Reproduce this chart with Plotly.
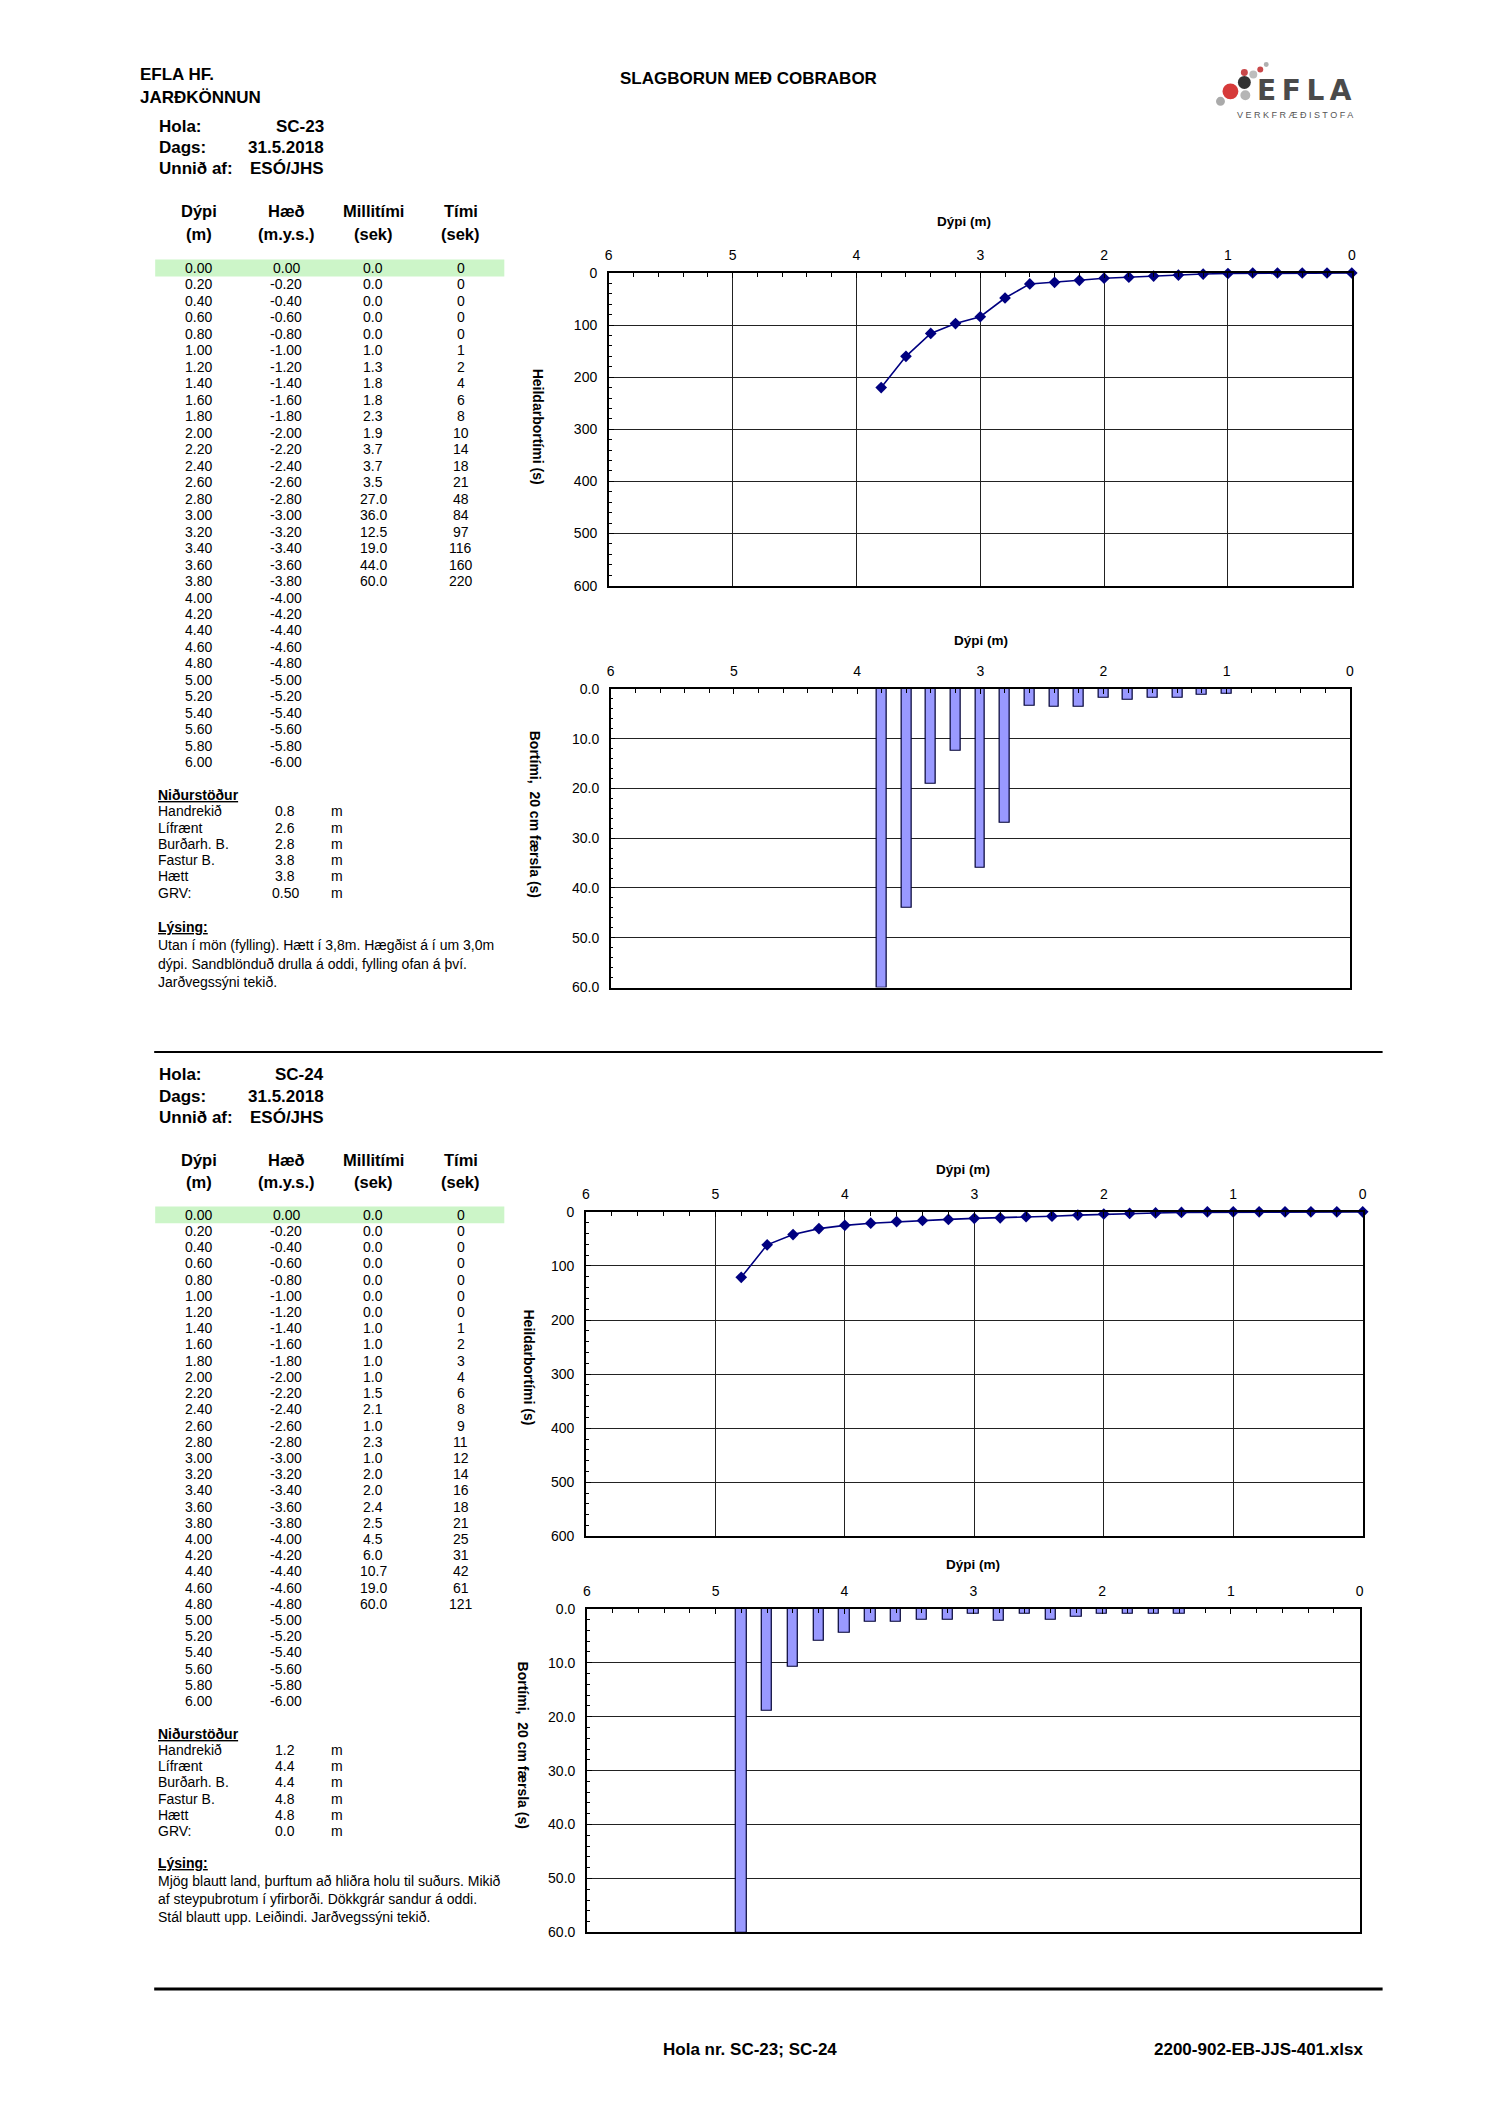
import plotly.graph_objects as go

W, H = 1500, 2122
FONT = "Liberation Sans, Arial, sans-serif"

# ---------------- data ----------------
table_depth = ["0.00", "0.20", "0.40", "0.60", "0.80", "1.00", "1.20", "1.40", "1.60", "1.80",
               "2.00", "2.20", "2.40", "2.60", "2.80", "3.00", "3.20", "3.40", "3.60", "3.80",
               "4.00", "4.20", "4.40", "4.60", "4.80", "5.00", "5.20", "5.40", "5.60", "5.80", "6.00"]
table_haed = ["0.00", "-0.20", "-0.40", "-0.60", "-0.80", "-1.00", "-1.20", "-1.40", "-1.60", "-1.80",
              "-2.00", "-2.20", "-2.40", "-2.60", "-2.80", "-3.00", "-3.20", "-3.40", "-3.60", "-3.80",
              "-4.00", "-4.20", "-4.40", "-4.60", "-4.80", "-5.00", "-5.20", "-5.40", "-5.60", "-5.80", "-6.00"]

sc23_depth = [0.0, 0.2, 0.4, 0.6, 0.8, 1.0, 1.2, 1.4, 1.6, 1.8,
              2.0, 2.2, 2.4, 2.6, 2.8, 3.0, 3.2, 3.4, 3.6, 3.8]
sc23_milli = [0.0, 0.0, 0.0, 0.0, 0.0, 1.0, 1.3, 1.8, 1.8, 2.3,
              1.9, 3.7, 3.7, 3.5, 27.0, 36.0, 12.5, 19.0, 44.0, 60.0]
sc23_time = [0, 0, 0, 0, 0, 1, 2, 4, 6, 8, 10, 14, 18, 21, 48, 84, 97, 116, 160, 220]

sc24_depth = [0.0, 0.2, 0.4, 0.6, 0.8, 1.0, 1.2, 1.4, 1.6, 1.8,
              2.0, 2.2, 2.4, 2.6, 2.8, 3.0, 3.2, 3.4, 3.6, 3.8,
              4.0, 4.2, 4.4, 4.6, 4.8]
sc24_milli = [0.0, 0.0, 0.0, 0.0, 0.0, 0.0, 0.0, 1.0, 1.0, 1.0,
              1.0, 1.5, 2.1, 1.0, 2.3, 1.0, 2.0, 2.0, 2.4, 2.5,
              4.5, 6.0, 10.7, 19.0, 60.0]
sc24_time = [0, 0, 0, 0, 0, 0, 0, 1, 2, 3, 4, 6, 8, 9, 11, 12, 14, 16, 18, 21, 25, 31, 42, 61, 121]

info_labels = ["Hola:", "Dags:", "Unnið af:"]
sc23_info = ["SC-23", "31.5.2018", "ESÓ/JHS"]
sc24_info = ["SC-24", "31.5.2018", "ESÓ/JHS"]

col_head1 = ["Dýpi", "Hæð", "Millitími", "Tími"]
col_head2 = ["(m)", "(m.y.s.)", "(sek)", "(sek)"]

nid_labels = ["Handrekið", "Lífrænt", "Burðarh. B.", "Fastur B.", "Hætt", "GRV:"]
sc23_nid = ["0.8", "2.6", "2.8", "3.8", "3.8", "0.50"]
sc24_nid = ["1.2", "4.4", "4.4", "4.8", "4.8", "0.0"]

sc23_lysing = ["Utan í mön (fylling). Hætt í 3,8m. Hægðist á í um 3,0m",
               "dýpi. Sandblönduð drulla á oddi, fylling ofan á því.",
               "Jarðvegssýni tekið."]
sc24_lysing = ["Mjög blautt land, þurftum að hliðra holu til suðurs. Mikið",
               "af steypubrotum í yfirborði. Dökkgrár sandur á oddi.",
               "Stál blautt upp. Leiðindi. Jarðvegssýni tekið."]

x_title = "Dýpi (m)"
y_title_line = "Heildarbortími (s)"
y_title_bar = "Bortími,  20 cm færsla (s)"

# ---------------- helpers ----------------
ann = []
shapes = []


def fx(x):
    return x / W


def fy(y):
    return 1 - y / H


def txt(x, y, s, size=14, bold=False, anchor="left", color="black", family=FONT, angle=0):
    ann.append(dict(x=fx(x), y=fy(y), xref="paper", yref="paper",
                    text=f"<b>{s}</b>" if bold else s, showarrow=False,
                    xanchor=anchor, yanchor="middle", textangle=angle, borderpad=0,
                    font=dict(size=size, color=color, family=family)))


def rect(x0, y0, x1, y1, fill):
    shapes.append(dict(type="rect", xref="paper", yref="paper", x0=fx(x0), x1=fx(x1),
                       y0=fy(y1), y1=fy(y0), fillcolor=fill, line=dict(width=0), layer="below"))


def hline(x0, x1, y, w):
    shapes.append(dict(type="line", xref="paper", yref="paper", x0=fx(x0), x1=fx(x1),
                       y0=fy(y), y1=fy(y), line=dict(color="black", width=w)))


def circle(cx, cy, r, col):
    shapes.append(dict(type="circle", xref="paper", yref="paper", x0=fx(cx - r), x1=fx(cx + r),
                       y0=fy(cy + r), y1=fy(cy - r), fillcolor=col, line=dict(width=0)))


# ---------------- page header ----------------
txt(136, 67, "EFLA HF.", 17, True)
txt(136, 90, "JARÐKÖNNUN", 17, True)
txt(748, 71, "SLAGBORUN MEÐ COBRABOR", 17, True, "center")

# logo
circle(1233, 84, 8, "#d63a3a")
circle(1247, 75, 6.5, "#333333")
circle(1223, 94, 4.5, "#aaaaaa")
circle(1248, 88, 5, "#b5b5b5")
circle(1247, 65, 3.5, "#c9484a")
circle(1256, 67, 4, "#bdbdbd")
circle(1263, 62, 3, "#c9484a")
circle(1269, 57, 2.5, "#b0b0b0")
txt(1307, 83, "E\u2009F\u2009L\u2009A", 28, True, "center", "#4a4a4a", "DejaVu Sans, Liberation Sans")
txt(1298, 108, "V E R K F R Æ Ð I S T O F A", 9, False, "center", "#555555")

# ---------------- table sections ----------------
sections = [
    dict(info=sc23_info, milli=sc23_milli, time=sc23_time, nid=sc23_nid, lys=sc23_lysing,
         info_y=[119, 141, 162], head_y=[205, 228], row0=262, dy=16.6,
         nid_y=793, nid_dy=16.4, lys_y=926, lys_dy=18.5),
    dict(info=sc24_info, milli=sc24_milli, time=sc24_time, nid=sc24_nid, lys=sc24_lysing,
         info_y=[1075, 1097, 1118], head_y=[1161, 1183], row0=1216, dy=16.33,
         nid_y=1739, nid_dy=16.3, lys_y=1869, lys_dy=18.2),
]
col_x = [196, 284, 371, 459]

for s in sections:
    for lab, val, yy in zip(info_labels, s["info"], s["info_y"]):
        txt(155, yy, lab, 17, True)
        txt(323, yy, val, 17, True, "right")
    for cx, h1, h2 in zip(col_x, col_head1, col_head2):
        txt(cx, s["head_y"][0], h1, 16.5, True, "center")
        txt(cx, s["head_y"][1], h2, 16.5, True, "center")
    rect(152, s["row0"] - 8.5, 503, s["row0"] + 8.5, "#ccf5c8")
    for i, (d, h) in enumerate(zip(table_depth, table_haed)):
        yy = s["row0"] + i * s["dy"]
        txt(col_x[0], yy, d, 14, False, "center")
        txt(col_x[1], yy, h, 14, False, "center")
    for i, (m, t) in enumerate(zip(s["milli"], s["time"])):
        yy = s["row0"] + i * s["dy"]
        txt(col_x[2], yy, f"{m:.1f}", 14, False, "center")
        txt(col_x[3], yy, str(t), 14, False, "center")
    txt(154, s["nid_y"], "<u>Niðurstöður</u>", 14, True)
    for i, (lab, val) in enumerate(zip(nid_labels, s["nid"])):
        yy = s["nid_y"] + (i + 1) * s["nid_dy"]
        txt(154, yy, lab, 14)
        txt(283, yy, val, 14, False, "center")
        txt(335, yy, "m", 14, False, "center")
    txt(154, s["lys_y"], "<u>Lýsing:</u>", 14, True)
    for i, line in enumerate(s["lys"]):
        txt(154, s["lys_y"] + (i + 1) * s["lys_dy"], line, 14)

# separator & footer
hline(151, 1386, 1052, 2)
hline(151, 1386, 1996, 3)
txt(750, 2057, "Hola nr. SC-23; SC-24", 17, True, "center")
txt(1367, 2057, "2200-902-EB-JJS-401.xlsx", 17, True, "right")

# ---------------- charts ----------------
charts = [
    dict(kind="line", x=sc23_depth, y=sc23_time, box=(608, 267, 1355, 582), ymax=600, dtick=100,
         minor=20, fmt="d", title=(965, 215), ytitle=(537, 422)),
    dict(kind="bar", x=sc23_depth, y=sc23_milli, box=(610, 686, 1353, 987), ymax=60, dtick=10,
         minor=2, fmt=".1f", title=(982, 637), ytitle=(534, 812)),
    dict(kind="line", x=sc24_depth, y=sc24_time, box=(585, 1213, 1366, 1540), ymax=600, dtick=100,
         minor=20, fmt="d", title=(964, 1170), ytitle=(528, 1370)),
    dict(kind="bar", x=sc24_depth, y=sc24_milli, box=(586, 1613, 1363, 1939), ymax=60, dtick=10,
         minor=2, fmt=".1f", title=(974, 1568), ytitle=(522, 1750)),
]

fig = go.Figure()
layout = {}
for k, c in enumerate(charts, start=1):
    sfx = "" if k == 1 else str(k)
    x0, y0, x1, y1 = c["box"]
    if c["kind"] == "line":
        fig.add_trace(go.Scatter(x=c["x"], y=c["y"], mode="lines+markers",
                                 line=dict(color="#000080", width=1.6),
                                 marker=dict(symbol="diamond", size=9, color="#000080"),
                                 cliponaxis=False, showlegend=False,
                                 xaxis="x" + sfx, yaxis="y" + sfx))
    else:
        fig.add_trace(go.Bar(x=c["x"], y=c["y"], width=0.08,
                             marker=dict(color="#9999ff", line=dict(color="#000033", width=1.2)),
                             showlegend=False, xaxis="x" + sfx, yaxis="y" + sfx))
    layout["xaxis" + sfx] = dict(
        domain=[fx(x0), fx(x1)], range=[6, 0], side="top", anchor="y" + sfx,
        tick0=0, dtick=1, ticks="inside", ticklen=5, tickcolor="black", ticklabelstandoff=5,
        showline=True, mirror=True, linecolor="black", linewidth=2,
        showgrid=(c["kind"] == "line"), gridcolor="#222222", gridwidth=1, zeroline=False,
        minor=dict(dtick=0.2, ticks="inside", ticklen=4, tickcolor="black", showgrid=False),
        tickfont=dict(size=14, family=FONT, color="black"), fixedrange=True)
    layout["yaxis" + sfx] = dict(
        domain=[fy(y1), fy(y0)], range=[c["ymax"], 0], anchor="x" + sfx,
        tick0=0, dtick=c["dtick"], tickformat=c["fmt"], ticks="inside", ticklen=5,
        tickcolor="black", ticklabelstandoff=7,
        showline=True, mirror=True, linecolor="black", linewidth=1.5,
        showgrid=True, gridcolor="#222222", gridwidth=1, zeroline=False,
        minor=dict(dtick=c["minor"], ticks="inside", ticklen=3, tickcolor="black", showgrid=False),
        tickfont=dict(size=14, family=FONT, color="black"), fixedrange=True)
    txt(c["title"][0], c["title"][1], x_title, 13.5, True, "center")
    txt(c["ytitle"][0], c["ytitle"][1], y_title_line if c["kind"] == "line" else y_title_bar,
        14, True, "center", angle=90)

fig.update_layout(
    width=W, height=H, margin=dict(l=0, r=0, t=0, b=0),
    paper_bgcolor="white", plot_bgcolor="white",
    annotations=ann, shapes=shapes, bargap=0, **layout)

fig.write_html("out.html", config={"displayModeBar": False},
               post_script="document.body.style.margin='0px';")
